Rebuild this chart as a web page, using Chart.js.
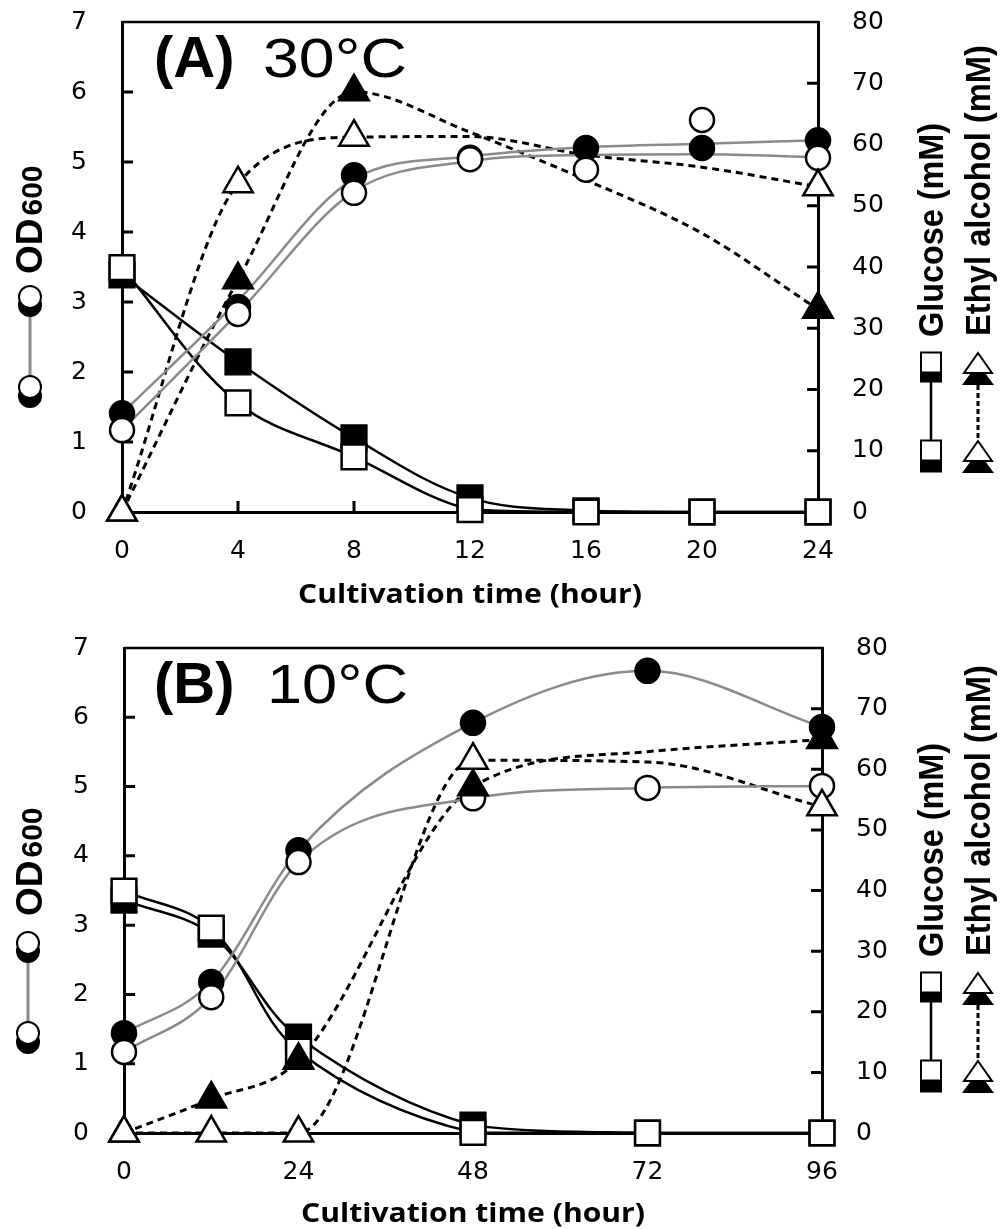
<!DOCTYPE html>
<html>
<head>
<meta charset="utf-8">
<script src="https://cdn.jsdelivr.net/npm/chart.js@4.4.0/dist/chart.umd.min.js"></script>
<style>
  html, body { margin: 0; padding: 0; background: #fff; }
  #wrap { position: relative; width: 1002px; height: 1229px; }
  .panel { position: absolute; left: 0; width: 1002px; }
  #panelA { top: 0; height: 615px; }
  #panelB { top: 615px; height: 614px; }
</style>
</head>
<body>
<div id="wrap">
  <div class="panel" id="panelA"><canvas id="chartA" width="1002" height="615"></canvas></div>
  <div class="panel" id="panelB"><canvas id="chartB" width="1002" height="614"></canvas></div>
</div>
<script>
// ---- values ----
// (A) 30 C
const hoursA = [0, 4, 8, 12, 16, 20, 24]
const xTicksA = [0, 4, 8, 12, 16, 20, 24]
const odFilledA = [1.41, 2.93, 4.81, 5.06, 5.20, 5.20, 5.31]
const odOpenA = [1.17, 2.83, 4.56, 5.04, 4.89, 5.60, 5.06]
const odCurveFilledA = [1.41, 3.02, 4.76, 5.08, 5.21, 5.26, 5.31]
const odCurveOpenA = [1.17, 2.84, 4.58, 5.01, 5.10, 5.11, 5.07]
const glcFilledA = [38.7, 24.5, 12.1, 2.3, 0.2, 0, 0]
const glcOpenA = [39.9, 17.8, 9.0, 0.4, 0, 0, 0]
const etFilledA = [0, 37.9, 68.6, null, null, null, 33.1]
const etOpenA = [0, 53.6, 61.2, null, null, null, 53.1]
const etCurveFilledA = [0, 37.9, 68.6, 62.0, 54.2, 45.5, 33.1]
const etCurveOpenA = [0, 53.6, 61.2, 61.3, 58.3, 56.3, 53.1]

// (B) 10 C
const hoursB = [0, 12, 24, 48, 72, 96]
const xTicksB = [0, 24, 48, 72, 96]
const odFilledB = [1.44, 2.18, 4.08, 5.92, 6.67, 5.86]
const odOpenB = [1.17, 1.96, 3.91, 4.83, 4.98, 5.01]
const glcFilledB = [38.4, 32.8, 15.8, 1.3, 0, 0]
const glcOpenB = [39.9, 33.8, 13.5, 0.1, 0, 0]
const etFilledB = [0, 5.6, 12.0, 57.1, null, 64.9]
const etOpenB = [0, 0, 0, 61.5, null, 53.8]
const etCurveFilledB = [0, 5.6, 12.0, 57.1, 62.9, 64.9]
const etCurveOpenB = [0, 0, 0, 61.5, 61.2, 53.8]

const odTicks = [0, 1, 2, 3, 4, 5, 6, 7]
const mmTicks = [0, 10, 20, 30, 40, 50, 60, 70, 80]

Chart.defaults.font.family = "'DejaVu Sans'"
Chart.defaults.color = '#000'

function pts(hours, vals) {
  const out = []
  hours.forEach((h, i) => { if (vals[i] !== null) out.push({x: h, y: vals[i]}) })
  return out
}

// smooth: 'monotone' or a bezier tension
function lineSet(hours, vals, axis, color, width, dash, smooth) {
  const ds = {
    data: pts(hours, vals), yAxisID: axis, borderColor: color, borderWidth: width,
    borderDash: dash, pointRadius: 0, fill: false, clip: false, order: 10
  }
  if (smooth === 'monotone') ds.cubicInterpolationMode = 'monotone'
  else ds.tension = smooth
  return ds
}

function markSet(hours, vals, axis, style, radius, fill, order) {
  return {
    data: pts(hours, vals), yAxisID: axis, showLine: false, pointStyle: style,
    pointRadius: radius, pointBorderWidth: 2.5, pointBorderColor: '#000',
    pointBackgroundColor: fill, clip: false, order: order
  }
}

function fitText(ctx, text, x, y, w, font) {
  ctx.font = font
  const m = ctx.measureText(text).width
  ctx.save()
  ctx.translate(x, y)
  ctx.scale(w / m, 1)
  ctx.fillText(text, 0, 0)
  ctx.restore()
}

function fitTextUp(ctx, text, x, y, len, font) {
  ctx.font = font
  const m = ctx.measureText(text).width
  ctx.save()
  ctx.translate(x, y)
  ctx.rotate(-Math.PI / 2)
  ctx.scale(len / m, 1)
  ctx.fillText(text, 0, 0)
  ctx.restore()
}

function circ(ctx, x, y, r, fill) {
  ctx.beginPath()
  ctx.arc(x, y, r, 0, 2 * Math.PI)
  ctx.fillStyle = fill
  ctx.fill()
  ctx.lineWidth = 2
  ctx.strokeStyle = '#000'
  ctx.stroke()
}

function sq(ctx, cx, cy, s, fill) {
  ctx.fillStyle = fill
  ctx.fillRect(cx - s / 2, cy - s / 2, s, s)
  ctx.lineWidth = 2
  ctx.strokeStyle = '#000'
  ctx.strokeRect(cx - s / 2, cy - s / 2, s, s)
}

function tri(ctx, cx, apex, w, h, fill) {
  ctx.beginPath()
  ctx.moveTo(cx, apex)
  ctx.lineTo(cx + w / 2, apex + h)
  ctx.lineTo(cx - w / 2, apex + h)
  ctx.closePath()
  ctx.fillStyle = fill
  ctx.fill()
  ctx.lineWidth = 2
  ctx.strokeStyle = '#000'
  ctx.stroke()
}

// inward tick marks, top frame line, titles and the little key symbols
const deco = {
  id: 'deco',
  beforeDatasetsDraw(chart) {
    const {ctx, chartArea: a, scales} = chart
    ctx.save()
    ctx.strokeStyle = '#000'
    ctx.lineWidth = 3
    ctx.beginPath()
    scales.yOD.ticks.forEach(t => {
      if (t.value <= 0 || t.value >= 7) return
      const y = scales.yOD.getPixelForValue(t.value)
      ctx.moveTo(a.left, y); ctx.lineTo(a.left + 11, y)
    })
    scales.yMM.ticks.forEach(t => {
      if (t.value <= 0 || t.value >= 80) return
      const y = scales.yMM.getPixelForValue(t.value)
      ctx.moveTo(a.right, y); ctx.lineTo(a.right - 11, y)
    })
    scales.x.ticks.forEach(t => {
      const x = scales.x.getPixelForValue(t.value)
      if (x <= a.left + 1 || x >= a.right - 1) return
      ctx.moveTo(x, a.bottom); ctx.lineTo(x, a.bottom - 11)
    })
    ctx.stroke()
    ctx.lineWidth = 2.5
    ctx.beginPath()
    ctx.moveTo(a.left, a.top); ctx.lineTo(a.right + 1, a.top)
    ctx.stroke()
    ctx.restore()
  },
  afterDraw(chart, args, o) {
    const ctx = chart.ctx
    ctx.save()
    ctx.fillStyle = '#000'
    ctx.textAlign = 'left'
    ctx.textBaseline = 'alphabetic'

    // panel tag
    ctx.font = 'bold 58px "Liberation Sans"'
    ctx.fillText(o.tag, 154, o.tagBase)
    fitText(ctx, o.temp, o.tempX, o.tagBase, o.tempW, '56px "Liberation Sans"')

    // x title
    fitText(ctx, 'Cultivation time (hour)', o.xTitleCx - 172, o.xTitleBase, 344, 'bold 27px "Open Sans"')

    // OD600
    ctx.save()
    ctx.translate(42, o.odY)
    ctx.rotate(-Math.PI / 2)
    ctx.font = 'bold 37px "Liberation Sans"'
    ctx.fillText('OD', 0, 0)
    const w = ctx.measureText('OD').width
    ctx.font = 'bold 30px "Liberation Sans"'
    ctx.fillText('600', w + 3, 0)
    ctx.restore()

    // right titles
    fitTextUp(ctx, 'Glucose (mM)', 943, o.rtY, 214, 'bold 35px "Liberation Sans"')
    fitTextUp(ctx, 'Ethyl alcohol (mM)', 990, o.rtY - 1, 291, 'bold 35px "Liberation Sans"')

    // left key: circles
    const lx = o.ckX, ly = o.ckY
    ctx.strokeStyle = '#8a8a8a'
    ctx.lineWidth = 3
    ctx.beginPath(); ctx.moveTo(lx, ly); ctx.lineTo(lx, ly + 90); ctx.stroke()
    circ(ctx, lx, ly + 8, 11, '#000')
    circ(ctx, lx, ly, 11, '#fff')
    circ(ctx, lx, ly + 99, 11, '#000')
    circ(ctx, lx, ly + 90, 11, '#fff')

    // right key: squares
    const sy = o.rkY
    ctx.strokeStyle = '#000'
    ctx.lineWidth = 2.5
    ctx.beginPath(); ctx.moveTo(931, sy + 25); ctx.lineTo(931, sy + 95); ctx.stroke()
    sq(ctx, 931, sy + 19.5, 20, '#000')
    sq(ctx, 931, sy + 10.5, 20, '#fff')
    sq(ctx, 931, sy + 109.5, 20, '#000')
    sq(ctx, 931, sy + 98.5, 20, '#fff')

    // right key: triangles
    ctx.strokeStyle = '#000'
    ctx.lineWidth = 3
    ctx.setLineDash([5, 3])
    ctx.beginPath(); ctx.moveTo(978, sy + 33); ctx.lineTo(978, sy + 88); ctx.stroke()
    ctx.setLineDash([])
    tri(ctx, 978, sy + 13, 28, 19, '#000')
    tri(ctx, 978, sy + 1, 28, 20, '#fff')
    tri(ctx, 978, sy + 101, 28, 19, '#000')
    tri(ctx, 978, sy + 89, 28, 20, '#fff')
    ctx.restore()
  }
}

function scaleOpts(xTicks, xMax, dims) {
  const common = {
    grid: {display: false, drawTicks: false},
    border: {display: true, color: '#000', width: 3}
  }
  return {
    x: Object.assign({}, common, {
      type: 'linear', min: 0, max: xMax,
      afterBuildTicks: s => { s.ticks = xTicks.map(v => ({value: v})) },
      ticks: {padding: 24, font: {size: 25}, color: '#000', autoSkip: false, maxRotation: 0},
      afterFit: s => { s.height = dims.bottomH; s.paddingLeft = 0; s.paddingRight = 0 }
    }),
    yOD: Object.assign({}, common, {
      position: 'left', min: 0, max: 7,
      afterBuildTicks: s => { s.ticks = odTicks.map(v => ({value: v})) },
      ticks: {padding: 35, font: {size: 25}, color: '#000', autoSkip: false},
      afterFit: s => { s.width = dims.leftW; s.paddingTop = 0; s.paddingBottom = 0 }
    }),
    yMM: Object.assign({}, common, {
      position: 'right', min: 0, max: 80,
      afterBuildTicks: s => { s.ticks = mmTicks.map(v => ({value: v})) },
      ticks: {padding: 34, font: {size: 25}, color: '#000', autoSkip: false},
      afterFit: s => { s.width = dims.rightW; s.paddingTop = 0; s.paddingBottom = 0 }
    })
  }
}

function makeChart(id, datasets, xTicks, xMax, dims, decoOpts) {
  return new Chart(document.getElementById(id), {
    type: 'line',
    data: {datasets: datasets},
    options: {
      responsive: false,
      devicePixelRatio: 1,
      animation: false,
      events: [],
      layout: {padding: {top: dims.top, left: 0, right: 0, bottom: 0}},
      scales: scaleOpts(xTicks, xMax, dims),
      plugins: {legend: {display: false}, tooltip: {enabled: false}, deco: decoOpts}
    },
    plugins: [deco]
  })
}

const GRAY = '#8a8a8a'
const dash = [7, 5]

makeChart('chartA', [
  lineSet(hoursA, odCurveFilledA, 'yOD', GRAY, 2.5, [], 'monotone'),
  lineSet(hoursA, odCurveOpenA, 'yOD', GRAY, 2.5, [], 'monotone'),
  lineSet(hoursA, glcFilledA, 'yMM', '#000', 2.5, [], 0.35),
  lineSet(hoursA, glcOpenA, 'yMM', '#000', 2.5, [], 0.35),
  lineSet(hoursA, etCurveFilledA, 'yMM', '#000', 3, dash, 'monotone'),
  lineSet(hoursA, etCurveOpenA, 'yMM', '#000', 3, dash, 'monotone'),
  markSet(hoursA, glcFilledA, 'yMM', 'rect', 17.5, '#000', 7),
  markSet(hoursA, glcOpenA, 'yMM', 'rect', 17.5, '#fff', 6),
  markSet(hoursA, odFilledA, 'yOD', 'circle', 12, '#000', 5),
  markSet(hoursA, odOpenA, 'yOD', 'circle', 12, '#fff', 4),
  markSet(hoursA, etFilledA, 'yMM', 'triangle', 17, '#000', 3),
  markSet(hoursA, etOpenA, 'yMM', 'triangle', 17, '#fff', 2)
], xTicksA, 24, {top: 22, leftW: 122, rightW: 184, bottomH: 103}, {
  tag: '(A)', temp: '30\u00B0C', tempX: 263, tempW: 144, tagBase: 77,
  xTitleCx: 470, xTitleBase: 603, odY: 274, ckX: 30, ckY: 297, rtY: 337, rkY: 352
})

makeChart('chartB', [
  lineSet(hoursB, odFilledB, 'yOD', GRAY, 2.5, [], 'monotone'),
  lineSet(hoursB, odOpenB, 'yOD', GRAY, 2.5, [], 'monotone'),
  lineSet(hoursB, glcFilledB, 'yMM', '#000', 2.5, [], 0.35),
  lineSet(hoursB, glcOpenB, 'yMM', '#000', 2.5, [], 0.35),
  lineSet(hoursB, etCurveFilledB, 'yMM', '#000', 3, dash, 'monotone'),
  lineSet(hoursB, etCurveOpenB, 'yMM', '#000', 3, dash, 'monotone'),
  markSet(hoursB, glcFilledB, 'yMM', 'rect', 17.5, '#000', 7),
  markSet(hoursB, glcOpenB, 'yMM', 'rect', 17.5, '#fff', 6),
  markSet(hoursB, odFilledB, 'yOD', 'circle', 12, '#000', 5),
  markSet(hoursB, odOpenB, 'yOD', 'circle', 12, '#fff', 4),
  markSet(hoursB, etFilledB, 'yMM', 'triangle', 17, '#000', 3),
  markSet(hoursB, etOpenB, 'yMM', 'triangle', 17, '#fff', 2)
], xTicksB, 96, {top: 33, leftW: 124, rightW: 180, bottomH: 96}, {
  tag: '(B)', temp: '10\u00B0C', tempX: 267, tempW: 141, tagBase: 88,
  xTitleCx: 473, xTitleBase: 607, odY: 301, ckX: 28, ckY: 328, rtY: 342, rkY: 357
})
</script>
</body>
</html>
